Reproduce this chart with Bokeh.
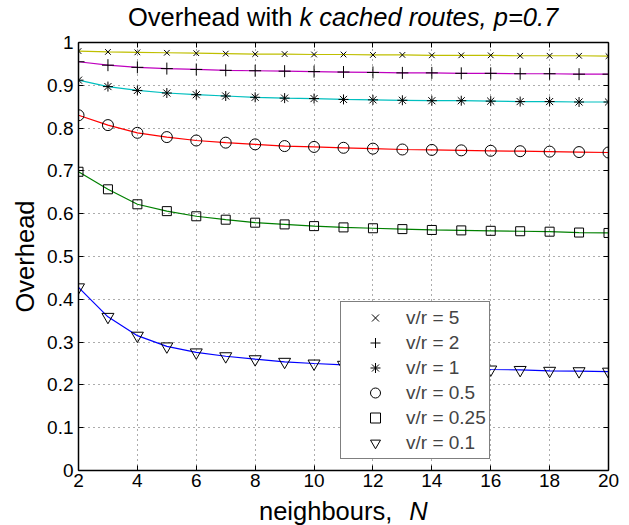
from bokeh.plotting import figure
from bokeh.models import (Range1d, FixedTicker, CustomJSTickFormatter, LinearAxis,
                          Legend, LegendItem, Div)
from bokeh.layouts import column
from bokeh.embed import file_html
from bokeh.resources import INLINE

# ---- data ----
N = [2, 3, 4, 5, 6, 7, 8, 9, 10, 11, 12, 13, 14, 15, 16, 17, 18, 19, 20]
vr5 = [0.980, 0.978, 0.977, 0.976, 0.975, 0.974, 0.973, 0.973, 0.972, 0.972,
       0.971, 0.971, 0.970, 0.970, 0.970, 0.969, 0.969, 0.969, 0.968]
vr2 = [0.955, 0.947, 0.942, 0.939, 0.937, 0.935, 0.934, 0.933, 0.932, 0.931,
       0.930, 0.929, 0.929, 0.928, 0.928, 0.927, 0.927, 0.926, 0.926]
vr1 = [0.912, 0.897, 0.888, 0.882, 0.878, 0.875, 0.872, 0.870, 0.869, 0.867,
       0.866, 0.865, 0.864, 0.864, 0.863, 0.862, 0.862, 0.861, 0.861]
vr05 = [0.830, 0.807, 0.789, 0.779, 0.771, 0.766, 0.762, 0.758, 0.756, 0.754,
        0.752, 0.750, 0.749, 0.748, 0.747, 0.746, 0.745, 0.744, 0.743]
vr025 = [0.698, 0.657, 0.622, 0.606, 0.594, 0.586, 0.579, 0.575, 0.571, 0.568,
         0.566, 0.564, 0.562, 0.561, 0.560, 0.559, 0.558, 0.556, 0.555]
vr01 = [0.428, 0.359, 0.315, 0.290, 0.276, 0.267, 0.260, 0.254, 0.250, 0.247,
        0.244, 0.242, 0.240, 0.238, 0.236, 0.235, 0.233, 0.232, 0.231]

series_labels = ["v/r = 5", "v/r = 2", "v/r = 1", "v/r = 0.5", "v/r = 0.25", "v/r = 0.1"]
series_values = [vr5, vr2, vr1, vr05, vr025, vr01]
line_colors = ["#bfbf00", "#bf00bf", "#00bfbf", "#ff0000", "#008000", "#0000ff"]
markers = ["x", "cross", "asterisk", "circle", "square", "inverted_triangle"]
marker_sizes = [8, 12, 10, 11, 9, 12]

x_ticks = [2, 4, 6, 8, 10, 12, 14, 16, 18, 20]
y_ticks = [0, 0.1, 0.2, 0.3, 0.4, 0.5, 0.6, 0.7, 0.8, 0.9, 1]

title_plain = "Overhead with"
title_italic = "k cached routes, p=0.7"
xlabel_plain = "neighbours,"
xlabel_italic = "N"
ylabel = "Overhead"

FONT = "Liberation Sans"

p = figure(width=629, height=465, output_backend="svg", toolbar_location=None,
           x_range=Range1d(2, 20), y_range=Range1d(0, 1),
           min_border_left=78, min_border_right=21, min_border_top=10, min_border_bottom=27)
p.background_fill_color = "white"
p.border_fill_color = "white"
p.outline_line_color = None
p.margin = (0, 0, 0, 0)

fmt = CustomJSTickFormatter(code="return String(Number(tick.toFixed(1)));")
blank = CustomJSTickFormatter(code="return '';")

for ax in (p.xaxis[0], p.yaxis[0]):
    ax.axis_line_color = "black"
    ax.axis_line_width = 1.5
    ax.major_tick_in = 5
    ax.major_tick_out = 0
    ax.minor_tick_in = 0
    ax.minor_tick_out = 0
    ax.major_tick_line_color = "black"
    ax.major_label_text_font = FONT
    ax.major_label_text_font_size = "19px"
    ax.major_label_text_color = "black"

p.xaxis[0].ticker = FixedTicker(ticks=x_ticks)
p.yaxis[0].ticker = FixedTicker(ticks=y_ticks)
p.yaxis[0].formatter = fmt
p.xaxis[0].major_label_standoff = 3
p.yaxis[0].major_label_standoff = 5
p.yaxis[0].axis_label = ylabel
p.yaxis[0].axis_label_text_font = FONT
p.yaxis[0].axis_label_text_font_size = "25.5px"
p.yaxis[0].axis_label_text_font_style = "normal"
p.yaxis[0].axis_label_text_color = "black"
p.yaxis[0].axis_label_standoff = 5

# top/right axes for the box
top = LinearAxis(ticker=FixedTicker(ticks=x_ticks), formatter=blank,
                 major_tick_in=5, major_tick_out=0, minor_tick_in=0, minor_tick_out=0,
                 axis_line_width=1.5, major_label_standoff=0)
right = LinearAxis(ticker=FixedTicker(ticks=y_ticks), formatter=blank,
                   major_tick_in=5, major_tick_out=0, minor_tick_in=0, minor_tick_out=0,
                   axis_line_width=1.5, major_label_standoff=0)
p.add_layout(top, "above")
p.add_layout(right, "right")

p.xgrid.ticker = FixedTicker(ticks=x_ticks)
p.ygrid.ticker = FixedTicker(ticks=y_ticks)
for g in (p.xgrid[0], p.ygrid[0]):
    g.grid_line_color = "black"
    g.grid_line_alpha = 0.65
    g.grid_line_dash = "1 4"
    g.grid_line_width = 1

items = []
for lab, vals, col, mk, ms in zip(series_labels, series_values, line_colors, markers, marker_sizes):
    p.line(N, vals, line_color=col, line_width=1.2)
    r = p.scatter(N, vals, marker=mk, size=ms, line_color="black", fill_color=None,
                  line_width=1)
    items.append(LegendItem(label=lab, renderers=[r]))

legend = Legend(items=items, location=(262, 11), padding=3, margin=0, spacing=0,
                glyph_width=62, glyph_height=25, label_height=25, label_standoff=0,
                label_text_font=FONT, label_text_font_size="19px",
                border_line_color="black", border_line_width=1,
                background_fill_color="white", background_fill_alpha=1)
p.add_layout(legend, "center")

base_css = ("font-family:'Liberation Sans',Arial,sans-serif;font-size:25.5px;"
            "line-height:28px;white-space:nowrap;color:black;margin:0;")
title_div = Div(
    text=f'<div style="{base_css}padding-top:3px;padding-left:128px;">'
         f'{title_plain} <i>{title_italic}</i></div>',
    width=629, height=32, margin=(0, 0, 0, 0))
xlabel_div = Div(
    text=f'<div style="{base_css}padding-top:0px;padding-left:259px;">'
         f'{xlabel_plain}<i style="margin-left:17px;">{xlabel_italic}</i></div>',
    width=629, height=28, margin=(0, 0, 0, 0))

layout = column(title_div, p, xlabel_div, spacing=0)

open("out.html", "w").write(file_html(layout, INLINE))
